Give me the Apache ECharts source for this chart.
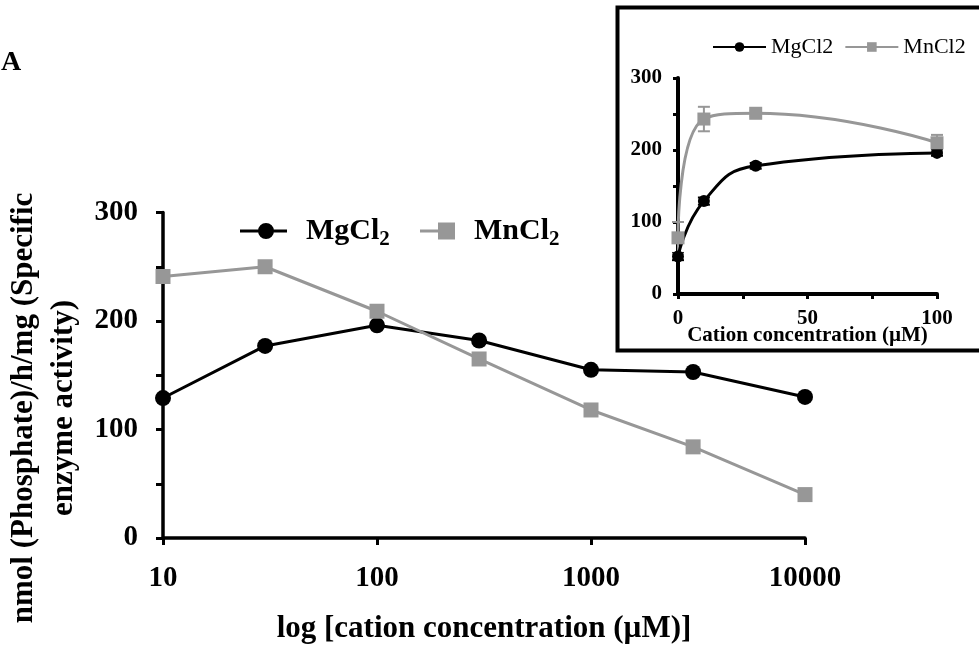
<!DOCTYPE html>
<html>
<head>
<meta charset="utf-8">
<script src="https://cdn.jsdelivr.net/npm/echarts@6/dist/echarts.min.js"></script>
<style>html,body{margin:0;padding:0;background:#fff}#c{width:979px;height:645px}</style>
</head>
<body>
<div id="c"></div>
<script>
// ---- Main chart data ----
const concentrations = [10, 30, 100, 300, 1000, 3000, 10000];
const mgMain = [129, 177, 196, 182, 155, 153, 130];
const mnMain = [241, 250, 209, 165, 118, 84, 40];
const xTickLabels = ['10', '100', '1000', '10000'];
const yTickLabels = ['0', '100', '200', '300'];

// ---- Inset data ----
const insetConc = [0, 10, 30, 100];
const mgInset = [52, 129, 178, 196];
const mnInset = [78, 243, 251, 210];
const mgInsetErr = [5, 5, 4, 4];
const mnInsetErr = [22, 17, 4, 11];
const insetXTickLabels = ['0', '50', '100'];
const insetYTickLabels = ['0', '100', '200', '300'];

const FONT = 'Liberation Serif';
const GRAY = '#979797';

const chart = echarts.init(document.getElementById('c'), null, {renderer: 'canvas'});

function pairs(xs, ys) { return xs.map((x, i) => [x, ys[i]]); }
function errData(xs, ys, es) { return xs.map((x, i) => [x, ys[i], es[i]]); }

function errRender(color) {
  return function (params, api) {
    const x = api.value(0), y = api.value(1), e = api.value(2);
    const top = api.coord([x, y + e]);
    const bot = api.coord([x, y - e]);
    const w = 6;
    const st = {stroke: color, lineWidth: 2};
    return {
      type: 'group',
      children: [
        {type: 'line', shape: {x1: top[0], y1: top[1], x2: bot[0], y2: bot[1]}, style: st},
        {type: 'line', shape: {x1: top[0] - w, y1: top[1], x2: top[0] + w, y2: top[1]}, style: st},
        {type: 'line', shape: {x1: bot[0] - w, y1: bot[1], x2: bot[0] + w, y2: bot[1]}, style: st}
      ]
    };
  };
}

const legendRich = {
  p: {width: 14},
  a: {fontSize: 30, fontWeight: 'bold', fontFamily: FONT, color: '#000'},
  b: {fontSize: 21, fontWeight: 'bold', fontFamily: FONT, color: '#000', padding: [18, 0, 0, 0]}
};

const option = {
  animation: false,
  backgroundColor: '#fff',
  textStyle: {fontFamily: FONT},
  grid: [
    {left: 163, top: 212.5, width: 642, height: 325.5, containLabel: false, outerBoundsMode: 'none'},
    {left: 678, top: 78, width: 259, height: 216, containLabel: false, outerBoundsMode: 'none'}
  ],
  legend: [
    {
      left: 235, top: 211, itemWidth: 47, itemHeight: 16,
      data: [{name: 'MgCl2', icon: 'path://M0,6.5L47,6.5L47,9.5L0,9.5Z M18,8A8,8 0 1,1 34,8A8,8 0 1,1 18,8Z'}],
      formatter: () => '{p|}{a|MgCl}{b|2}',
      textStyle: {rich: legendRich}
    },
    {
      left: 415, top: 211, itemWidth: 35, itemHeight: 17,
      data: [{name: 'MnCl2', icon: 'path://M0,7L18,7L18,10L0,10Z M18,0L35,0L35,17L18,17Z'}],
      formatter: () => '{p|}{a|MnCl}{b|2}',
      textStyle: {rich: legendRich}
    },
    {
      left: 707, top: 31, itemWidth: 53, itemHeight: 12, itemGap: 11,
      data: ['MgCl2 ', 'MnCl2 '],
      formatter: (n) => n.trim(),
      textStyle: {fontFamily: FONT, fontSize: 22, color: '#000'}
    }
  ],
  xAxis: [
    {
      gridIndex: 0, type: 'log', logBase: 10, min: 10, max: 10000,
      axisLine: {lineStyle: {color: '#000', width: 3.5}},
      axisTick: {show: true, length: 7, lineStyle: {color: '#000', width: 3}},
      axisLabel: {
        margin: 26, color: '#000', fontSize: 29, fontWeight: 'bold', fontFamily: FONT,
        formatter: (v) => xTickLabels[Math.round(Math.log10(v)) - 1]
      },
      splitLine: {show: false},
      name: 'log [cation concentration (\u00b5M)]',
      nameLocation: 'middle', nameGap: 75, nameMoveOverlap: false,
      nameTextStyle: {color: '#000', fontSize: 31, fontWeight: 'bold', fontFamily: FONT}
    },
    {
      gridIndex: 1, type: 'value', min: 0, max: 100, interval: 25,
      axisLine: {lineStyle: {color: '#000', width: 4}},
      axisTick: {show: true, length: 5, lineStyle: {color: '#000', width: 3}},
      axisLabel: {
        margin: 14, color: '#000', fontSize: 21, fontWeight: 'bold', fontFamily: FONT,
        formatter: (v) => (v % 50 === 0 ? insetXTickLabels[v / 50] : '')
      },
      splitLine: {show: false},
      name: 'Cation concentration (\u00b5M)',
      nameLocation: 'middle', nameGap: 31, nameMoveOverlap: false,
      nameTextStyle: {color: '#000', fontSize: 21, fontWeight: 'bold', fontFamily: FONT}
    }
  ],
  yAxis: [
    {
      gridIndex: 0, type: 'value', min: 0, max: 300, interval: 50,
      axisLine: {show: true, lineStyle: {color: '#000', width: 3.5}},
      axisTick: {show: true, length: 7, lineStyle: {color: '#000', width: 3}},
      axisLabel: {
        margin: 25, color: '#000', fontSize: 29, fontWeight: 'bold', fontFamily: FONT,
        formatter: (v) => (v % 100 === 0 ? yTickLabels[v / 100] : '')
      },
      splitLine: {show: false}
    },
    {
      gridIndex: 1, type: 'value', min: 0, max: 300, interval: 50,
      axisLine: {show: true, lineStyle: {color: '#000', width: 4}},
      axisTick: {show: true, length: 5, lineStyle: {color: '#000', width: 3}},
      axisLabel: {
        margin: 16, color: '#000', fontSize: 21, fontWeight: 'bold', fontFamily: FONT,
        formatter: (v) => (v % 100 === 0 ? insetYTickLabels[v / 100] : '')
      },
      splitLine: {show: false}
    }
  ],
  graphic: [
    {
      type: 'rect', left: 615, top: 5, z: 100, silent: true,
      shape: {width: 420, height: 343},
      style: {fill: 'none', stroke: '#000', lineWidth: 4}
    },
    {
      type: 'text', x: 44, y: 408, rotation: Math.PI / 2, silent: true,
      style: {
        text: 'nmol (Phosphate)/h/mg (Specific\nenzyme activity)',
        fill: '#000', font: 'bold 31px "Liberation Serif"',
        textAlign: 'center', textVerticalAlign: 'middle', lineHeight: 40
      }
    },
    {
      type: 'text', left: 1, top: 49, silent: true,
      style: {text: 'A', fill: '#000', font: 'bold 28px "Liberation Serif"'}
    }
  ],
  series: [
    {
      name: 'MgCl2', type: 'line', xAxisIndex: 0, yAxisIndex: 0,
      data: pairs(concentrations, mgMain),
      symbol: 'circle', symbolSize: 16,
      lineStyle: {color: '#000', width: 3}, itemStyle: {color: '#000'}
    },
    {
      name: 'MnCl2', type: 'line', xAxisIndex: 0, yAxisIndex: 0,
      data: pairs(concentrations, mnMain),
      symbol: 'rect', symbolSize: 15,
      lineStyle: {color: GRAY, width: 3}, itemStyle: {color: GRAY}
    },
    {
      name: 'MgCl2 err', type: 'custom', xAxisIndex: 1, yAxisIndex: 1, z: 1,
      data: errData(insetConc, mgInset, mgInsetErr),
      encode: {x: 0, y: 1}, renderItem: errRender('#000')
    },
    {
      name: 'MnCl2 err', type: 'custom', xAxisIndex: 1, yAxisIndex: 1, z: 1,
      data: errData(insetConc, mnInset, mnInsetErr),
      encode: {x: 0, y: 1}, renderItem: errRender(GRAY)
    },
    {
      name: 'MgCl2 ', type: 'line', xAxisIndex: 1, yAxisIndex: 1,
      data: pairs(insetConc, mgInset), smooth: 0.5,
      symbol: 'circle', symbolSize: 12,
      lineStyle: {color: '#000', width: 3}, itemStyle: {color: '#000'}
    },
    {
      name: 'MnCl2 ', type: 'line', xAxisIndex: 1, yAxisIndex: 1,
      data: pairs(insetConc, mnInset), smooth: 0.5,
      symbol: 'rect', symbolSize: 13,
      lineStyle: {color: GRAY, width: 3}, itemStyle: {color: GRAY}
    }
  ]
};

chart.setOption(option);
</script>
</body>
</html>
